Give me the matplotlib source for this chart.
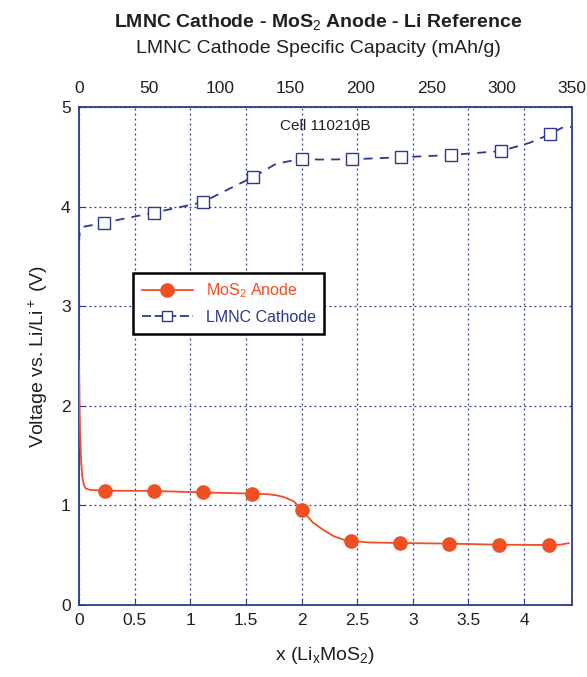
import matplotlib
matplotlib.use('Agg')
import matplotlib.pyplot as plt
import numpy as np

plt.rcParams['font.family'] = ['Liberation Sans', 'DejaVu Sans']
plt.rcParams['mathtext.fontset'] = 'custom'
plt.rcParams['mathtext.rm'] = 'Liberation Sans'
plt.rcParams['mathtext.it'] = 'Liberation Sans'
plt.rcParams['mathtext.bf'] = 'Liberation Sans:bold'

# MoS2 anode, x in Li_x MoS2
anode_x = [0.0, 0.005, 0.01, 0.02, 0.03, 0.045, 0.06, 0.1, 0.234, 0.674, 1.111, 1.552,
           1.70, 1.78, 1.85, 1.93, 2.004, 2.10, 2.20, 2.29, 2.38, 2.444, 2.6, 2.884,
           3.327, 3.776, 4.22, 4.32, 4.40]
anode_v = [2.45, 2.0, 1.7, 1.42, 1.28, 1.20, 1.17, 1.155, 1.148, 1.145, 1.13, 1.118,
           1.112, 1.10, 1.08, 1.04, 0.954, 0.83, 0.75, 0.69, 0.655, 0.643, 0.628, 0.622,
           0.616, 0.605, 0.602, 0.605, 0.62]
anode_mx = [0.234, 0.674, 1.111, 1.552, 2.004, 2.444, 2.884, 3.327, 3.776, 4.22]
anode_mv = [1.148, 1.145, 1.13, 1.118, 0.954, 0.643, 0.622, 0.616, 0.605, 0.602]

# LMNC cathode, specific capacity in mAh/g
cath_c = [0.0, 0.5, 1.5, 4, 8, 17.7, 53.2, 87.8, 105, 123.3, 140, 158.5, 170, 193.8,
          228.8, 264.3, 299.6, 320, 334.4, 342.7, 350]
cath_v = [3.65, 3.74, 3.78, 3.80, 3.81, 3.838, 3.939, 4.043, 4.167, 4.294, 4.43, 4.481,
          4.472, 4.475, 4.495, 4.518, 4.558, 4.64, 4.726, 4.79, 4.80]
cath_mc = [17.7, 53.2, 87.8, 123.3, 158.5, 193.8, 228.8, 264.3, 299.6, 334.4]
cath_mv = [3.838, 3.939, 4.043, 4.294, 4.481, 4.475, 4.495, 4.518, 4.558, 4.726]

x_ticks = [0, 0.5, 1, 1.5, 2, 2.5, 3, 3.5, 4]
x_labels = ['0', '0.5', '1', '1.5', '2', '2.5', '3', '3.5', '4']
cap_ticks = [0, 50, 100, 150, 200, 250, 300, 350]
y_ticks = [0, 1, 2, 3, 4, 5]

blue = '#2B3990'
red = '#F04E23'
ink = '#231F20'

fig = plt.figure(figsize=(5.87, 6.77), dpi=100)
ax = fig.add_axes([0.1346, 0.1064, 0.8398, 0.7356])
ax.set_xlim(0, 4.43)
ax.set_ylim(0, 5)
ax.set_xticks(x_ticks)
ax.set_xticklabels(x_labels)
ax.set_yticks(y_ticks)
ax.grid(True, color=blue, linestyle=(0, (1.5, 2.5)), linewidth=0.9)
for s in ax.spines.values():
    s.set_color(blue)
    s.set_linewidth(1.3)
ax.tick_params(direction='in', color=blue, labelsize=12.5, length=4, pad=6,
               labelcolor=ink)

ax.plot(anode_x, anode_v, color=red, lw=1.3, zorder=3)
ax.plot(anode_mx, anode_mv, 'o', color=red, ms=9.5, zorder=4)

ax2 = ax.twiny()
ax2.set_xlim(0, 350)
ax2.set_xticks(cap_ticks)
ax2.tick_params(direction='in', color=blue, labelsize=12.5, length=0, pad=8,
                labelcolor=ink)
for s in ax2.spines.values():
    s.set_visible(False)
ax2.plot(cath_c, cath_v, color=blue, lw=1.3, dashes=(5, 4), zorder=3)
ax2.plot(cath_mc, cath_mv, 's', color=blue, mfc='white', mew=1.0, ms=8, zorder=4)

ha, = ax2.plot([], [], '-o', color=red, ms=9.5, lw=1.3)
hc, = ax2.plot([], [], color=blue, marker='s', mfc='white', mew=1.0, ms=7,
               lw=1.3, dashes=(5, 2))
leg = ax2.legend([ha, hc], ['MoS$_2$ Anode', 'LMNC Cathode'], loc='upper left',
                 bbox_to_anchor=(0.1095, 0.667), borderaxespad=0, fontsize=11.5,
                 frameon=True, fancybox=False, framealpha=1, edgecolor='black',
                 handlelength=3.2, borderpad=0.55, labelspacing=0.6)
leg.get_frame().set_linewidth(1.8)
leg.get_texts()[0].set_color(red)
leg.get_texts()[1].set_color(blue)

ax2.text(0.5, 0.962, 'Cell 110210B', transform=ax.transAxes, ha='center',
         va='center', fontsize=11, color=ink)

ax.set_xlabel('x (Li$_x$MoS$_2$)', fontsize=14, labelpad=12, color=ink)
ax.set_ylabel('Voltage vs. Li/Li$^+$ (V)', fontsize=14, labelpad=8, color=ink)
fig.text(0.542, 0.968, 'LMNC Cathode - MoS$_2$ Anode - Li Reference', ha='center',
         va='center', fontsize=14, fontweight='bold', color=ink)
fig.text(0.542, 0.928, 'LMNC Cathode Specific Capacity (mAh/g)', ha='center',
         va='center', fontsize=14, color=ink)

fig.savefig('out.png', dpi=100)
